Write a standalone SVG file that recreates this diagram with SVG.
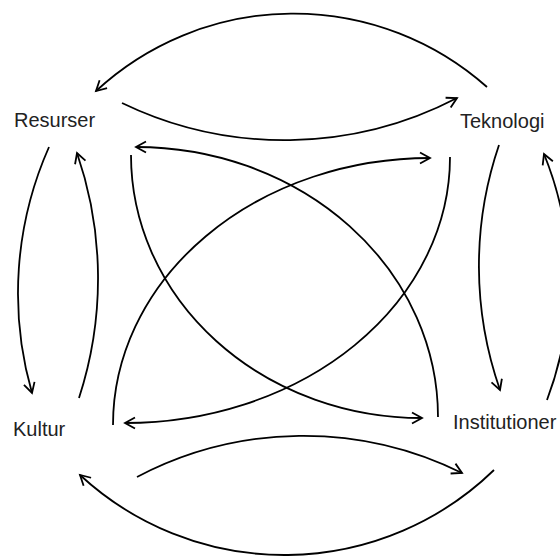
<svg xmlns="http://www.w3.org/2000/svg" width="560" height="556" viewBox="0 0 560 556">
  <style>
    .lbl { font-family: "Liberation Sans", Arial, sans-serif; font-size: 20px; fill: #222; }
    .edge { fill: none; stroke: #000; stroke-width: 1.8; marker-end: url(#arr); }
  </style>
  <defs>
    <marker id="arr" viewBox="-12 -8 15 16" refX="0" refY="0" markerWidth="15" markerHeight="16" markerUnits="userSpaceOnUse" orient="auto">
      <path d="M-10,-5.5 L0,0 L-10,5.5" fill="none" stroke="#000" stroke-width="1.8"/>
    </marker>
  </defs>
  <rect width="560" height="556" fill="#fff"/>
  <g id="connectors">
    <!-- top pair -->
    <path class="edge" d="M487,87 A291,291 0 0 0 96,91"/>
    <path class="edge" d="M122,103 A374,374 0 0 0 457,98"/>
    <!-- bottom pair -->
    <path class="edge" d="M137,477 A357,357 0 0 1 462,473"/>
    <path class="edge" d="M494,470 A301,301 0 0 1 80,475"/>
    <!-- left pair -->
    <path class="edge" d="M49,147 A361,361 0 0 0 32,393"/>
    <path class="edge" d="M79,398 A385,385 0 0 0 77,153"/>
    <!-- right pair -->
    <path class="edge" d="M499,145 A375,375 0 0 0 500,390"/>
    <path class="edge" d="M547,400 A336,336 0 0 0 544,154"/>
    <!-- diagonals -->
    <path class="edge" d="M131,155 A291,263 0 0 0 422,418"/>
    <path class="edge" d="M438,417 A302,270 0 0 0 136,147"/>
    <path class="edge" d="M113,425 A317,267 0 0 1 430,158"/>
    <path class="edge" d="M450,157 A325,266 0 0 1 125,423"/>
  </g>
  <g id="node-resurser"><text class="lbl" x="14" y="127">Resurser</text></g>
  <g id="node-teknologi"><text class="lbl" x="460" y="128">Teknologi</text></g>
  <g id="node-kultur"><text class="lbl" x="13" y="436">Kultur</text></g>
  <g id="node-institutioner"><text class="lbl" x="453" y="429">Institutioner</text></g>
</svg>
